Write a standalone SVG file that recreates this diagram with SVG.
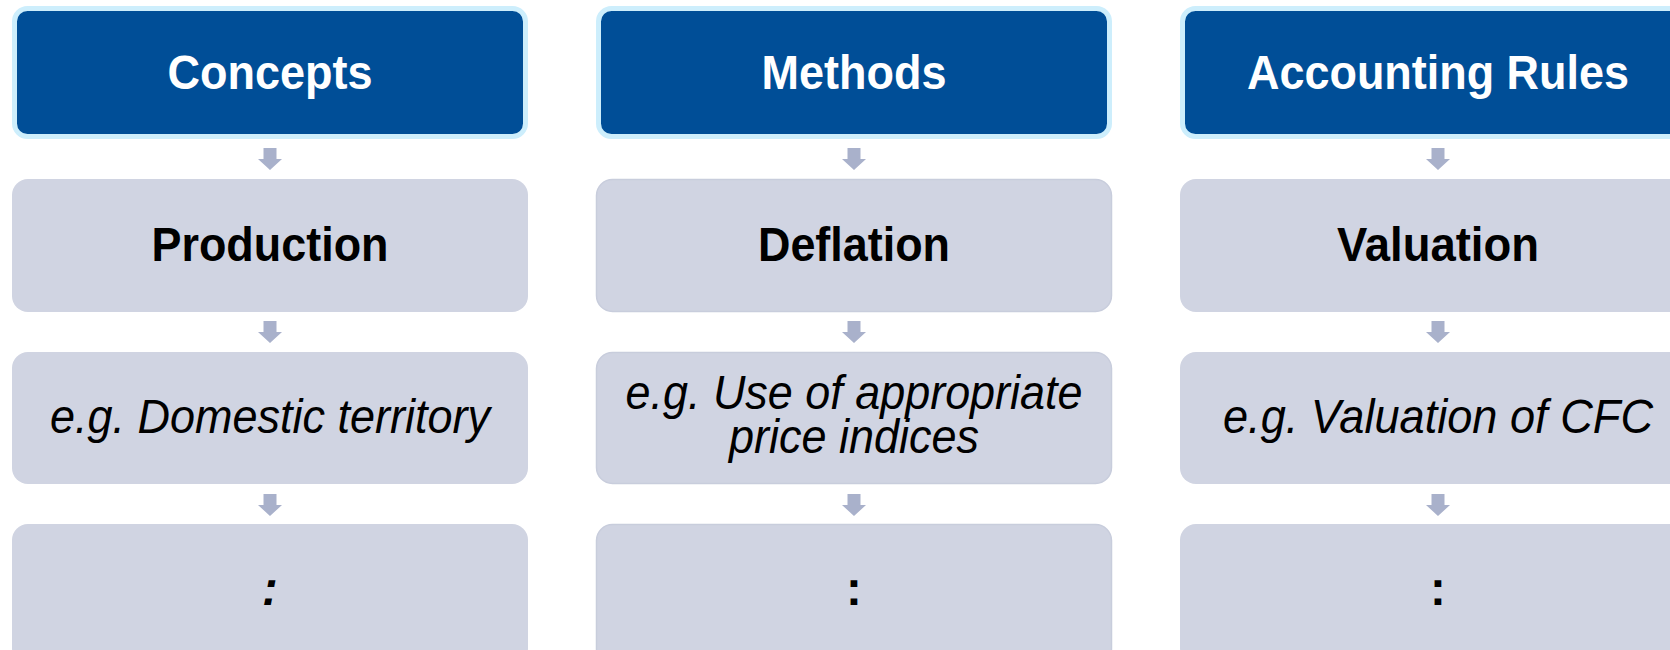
<svg xmlns="http://www.w3.org/2000/svg" width="1670" height="650" viewBox="0 0 1670 650">
<defs>
<style>
.hdr{fill:#004e97;stroke:#cdeefc;stroke-width:5}
.box{fill:#d0d4e2}
.box2{fill:#d0d4e2;stroke:#c8cddc;stroke-width:1.5}
.arr{fill:#a9b1cb}
.t{font-family:"Liberation Sans",Arial,sans-serif;font-size:47.5px;text-anchor:middle}
.th{fill:#ffffff;font-weight:bold}
.tb{fill:#000000;font-weight:bold}
.ti{fill:#000000;font-style:italic}
</style>
<path id="ar" d="M-6.5,0 H6.5 V11 H12 L0,22 L-12,11 H-6.5 Z"/>
</defs>
<g id="connectors">
<use href="#ar" class="arr" x="270" y="148"/>
<use href="#ar" class="arr" x="270" y="321"/>
<use href="#ar" class="arr" x="270" y="494"/>
<use href="#ar" class="arr" x="854" y="148"/>
<use href="#ar" class="arr" x="854" y="321"/>
<use href="#ar" class="arr" x="854" y="494"/>
<use href="#ar" class="arr" x="1438" y="148"/>
<use href="#ar" class="arr" x="1438" y="321"/>
<use href="#ar" class="arr" x="1438" y="494"/>
</g>
<g id="concepts">
<rect class="hdr" x="14.5" y="8.5" width="511" height="128" rx="13"/>
<text class="t th" x="270" y="89" textLength="205" lengthAdjust="spacingAndGlyphs">Concepts</text>
</g>
<g id="production">
<rect class="box" x="12" y="179" width="516" height="133" rx="16"/>
<text class="t tb" x="270" y="261" textLength="237" lengthAdjust="spacingAndGlyphs">Production</text>
</g>
<g id="domestic-territory">
<rect class="box" x="12" y="352" width="516" height="132" rx="16"/>
<text class="t ti" x="270" y="433" textLength="440" lengthAdjust="spacingAndGlyphs">e.g. Domestic territory</text>
</g>
<g id="concepts-more">
<rect class="box" x="12" y="524" width="516" height="140" rx="16"/>
<text class="t ti tb" x="270" y="605" style="font-style:italic">:</text>
</g>
<g id="methods">
<rect class="hdr" x="598.5" y="8.5" width="511" height="128" rx="13"/>
<text class="t th" x="854" y="89" textLength="185" lengthAdjust="spacingAndGlyphs">Methods</text>
</g>
<g id="deflation">
<rect class="box2" x="596.5" y="179.5" width="515" height="132" rx="16"/>
<text class="t tb" x="854" y="261" textLength="192" lengthAdjust="spacingAndGlyphs">Deflation</text>
</g>
<g id="price-indices">
<rect class="box2" x="596.5" y="352.5" width="515" height="131" rx="16"/>
<text class="t ti" x="854" y="409" textLength="457" lengthAdjust="spacingAndGlyphs">e.g. Use of appropriate</text>
<text class="t ti" x="854" y="453" textLength="250" lengthAdjust="spacingAndGlyphs">price indices</text>
</g>
<g id="methods-more">
<rect class="box2" x="596.5" y="524.5" width="515" height="140" rx="16"/>
<text class="t tb" x="854" y="605">:</text>
</g>
<g id="accounting-rules">
<rect class="hdr" x="1182.5" y="8.5" width="511" height="128" rx="13"/>
<text class="t th" x="1438" y="89" textLength="382" lengthAdjust="spacingAndGlyphs">Accounting Rules</text>
</g>
<g id="valuation">
<rect class="box" x="1180" y="179" width="516" height="133" rx="16"/>
<text class="t tb" x="1438" y="261" textLength="202" lengthAdjust="spacingAndGlyphs">Valuation</text>
</g>
<g id="valuation-cfc">
<rect class="box" x="1180" y="352" width="516" height="132" rx="16"/>
<text class="t ti" x="1438" y="433" textLength="430" lengthAdjust="spacingAndGlyphs">e.g. Valuation of CFC</text>
</g>
<g id="rules-more">
<rect class="box" x="1180" y="524" width="516" height="140" rx="16"/>
<text class="t tb" x="1438" y="605">:</text>
</g>
</svg>
